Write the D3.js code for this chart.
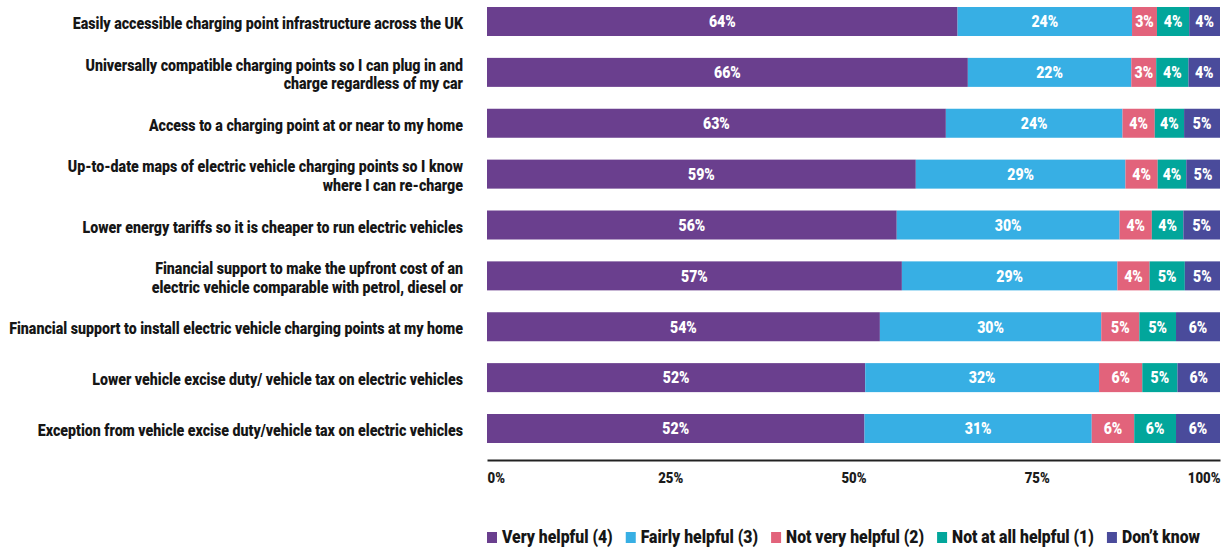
<!DOCTYPE html>
<html>
<head>
<meta charset="utf-8">
<script src="https://cdn.jsdelivr.net/npm/d3@7"></script>
<style>
  html, body { margin: 0; padding: 0; background: #ffffff; }
  svg { display: block; }
  text { font-family: "Roboto", "Noto Sans", sans-serif; font-weight: 900; }
</style>
</head>
<body>
<svg id="chart" width="1229" height="552"></svg>
<script>
// Survey items (each label split into display lines)
const categories = [
  ["Easily accessible charging point infrastructure across the UK"],
  ["Universally compatible charging points so I can plug in and", "charge regardless of my car"],
  ["Access to a charging point at or near to my home"],
  ["Up-to-date maps of electric vehicle charging points so I know", "where I can re-charge"],
  ["Lower energy tariffs so it is cheaper to run electric vehicles"],
  ["Financial support to make the upfront cost of an", "electric vehicle comparable with petrol, diesel or"],
  ["Financial support to install electric vehicle charging points at my home"],
  ["Lower vehicle excise duty/ vehicle tax on electric vehicles"],
  ["Exception from vehicle excise duty/vehicle tax on electric vehicles"]
];

const seriesNames = ["Very helpful (4)", "Fairly helpful (3)", "Not very helpful (2)", "Not at all helpful (1)", "Don\u2019t know"];
const seriesColors = ["#6a3f8e", "#37afe4", "#e2637b", "#02a69b", "#4a4b9b"];

// Share of respondents (%) per answer, one array per answer
const veryHelpful     = [64.2, 65.6, 62.6, 58.5, 55.9, 56.6, 53.6, 51.6, 51.5];
const fairlyHelpful   = [23.8, 22.3, 24.1, 28.6, 30.4, 29.4, 30.2, 31.9, 31.0];
const notVeryHelpful  = [3.4, 3.4, 4.4, 4.4, 4.4, 4.4, 5.2, 5.9, 5.8];
const notAtAllHelpful = [4.4, 4.4, 4.0, 3.9, 4.3, 4.8, 5.0, 4.8, 5.7];
const dontKnow        = [4.2, 4.3, 4.9, 4.6, 5.0, 4.8, 6.0, 5.8, 6.0];

const tickValues = [0, 25, 50, 75, 100];
const tickLabels = ["0%", "25%", "50%", "75%", "100%"];

const seriesValues = [veryHelpful, fairlyHelpful, notVeryHelpful, notAtAllHelpful, dontKnow];

const rows = categories.map((c, i) => {
  const r = { id: i, lines: c };
  seriesNames.forEach((s, k) => { r[s] = seriesValues[k][i]; });
  return r;
});

const svg = d3.select("#chart");
const plotLeft = 487;
const plotRight = 1220;
const plotTop = 7;
const plotBottom = 443;
const labelRight = 463;        // right edge of the category labels
const labelAreaWidth = 454;    // room available for the longest category label

const x = d3.scaleLinear().domain([0, 100]).range([plotLeft, plotRight]);
const y = d3.scaleBand().domain(rows.map(r => r.id)).range([plotTop, plotBottom]).paddingInner(0.43).paddingOuter(0);
const color = d3.scaleOrdinal().domain(seriesNames).range(seriesColors);

const stacked = d3.stack().keys(seriesNames)(rows);

// Stacked bar segments
const layer = svg.append("g").selectAll("g")
  .data(stacked)
  .join("g")
  .attr("fill", d => color(d.key));

layer.selectAll("rect")
  .data(d => d)
  .join("rect")
  .attr("x", d => x(d[0]))
  .attr("y", d => y(d.data.id))
  .attr("width", d => x(d[1]) - x(d[0]))
  .attr("height", y.bandwidth());

// Value labels inside each segment (slightly condensed face)
const numberCondense = 0.88;
layer.selectAll("text")
  .data(d => d)
  .join("text")
  .attr("transform", d => `translate(${(x(d[0]) + x(d[1])) / 2},${y(d.data.id) + y.bandwidth() / 2}) scale(${numberCondense},1)`)
  .attr("dy", "0.36em")
  .attr("text-anchor", "middle")
  .attr("fill", "#ffffff")
  .attr("font-size", 16)
  .text(d => Math.round(d[1] - d[0]) + "%");

// Category labels on the left
const lineGap = 19;
const catLabels = svg.append("g").selectAll("text")
  .data(rows)
  .join("text")
  .attr("text-anchor", "end")
  .attr("fill", "#161616")
  .attr("font-size", 17);

catLabels.each(function(d) {
  const t = d3.select(this);
  const n = d.lines.length;
  d.lines.forEach((ln, j) => {
    t.append("tspan")
      .attr("x", 0)
      .attr("y", (j - (n - 1) / 2) * lineGap + 1.5)
      .attr("dy", "0.36em")
      .text(ln);
  });
});

// Condense the label face so the longest label fits the margin
let widest = 0;
catLabels.selectAll("tspan").each(function() { widest = Math.max(widest, this.getComputedTextLength()); });
const textCondense = Math.min(1, labelAreaWidth / widest);
catLabels.attr("transform", d => `translate(${labelRight},${y(d.id) + y.bandwidth() / 2}) scale(${textCondense},1)`);

// Bottom axis
const axisY = 460;
const axis = d3.axisBottom(x).tickValues(tickValues).tickSize(0).tickPadding(0)
  .tickFormat((d, i) => tickLabels[i]);
const axisG = svg.append("g").attr("transform", `translate(0,${axisY})`).call(axis);
axisG.select(".domain").attr("stroke", "#222").attr("stroke-width", 2);
axisG.selectAll(".tick text")
  .attr("font-family", null)
  .attr("font-size", 15)
  .attr("fill", "#1b1b1b")
  .attr("y", 23)
  .attr("dy", 0)
  .attr("transform", `scale(${numberCondense},1)`)
  .attr("text-anchor", (d, i) => i === 0 ? "start" : (i === tickValues.length - 1 ? "end" : "middle"));

// Legend, spread across the plot width
const legendStartX = 487;
const legendEndX = 1200;
const legendY = 537;
const swatchW = 10, swatchGap = 5, itemGap = 13;
const legend = svg.append("g");
const legendItems = seriesNames.map((name, i) => {
  const t = legend.append("text")
    .attr("dy", "0.36em")
    .attr("font-size", 18)
    .attr("fill", "#161616")
    .text(name);
  return { name, color: seriesColors[i], node: t, w: t.node().getComputedTextLength() };
});
const rawText = d3.sum(legendItems, d => d.w);
const fixed = seriesNames.length * (swatchW + swatchGap) + (seriesNames.length - 1) * itemGap;
const legendCondense = (legendEndX - legendStartX - fixed) / rawText;
let lx = legendStartX;
legendItems.forEach(item => {
  legend.append("rect")
    .attr("x", lx).attr("y", legendY - 5)
    .attr("width", swatchW).attr("height", 11)
    .attr("fill", item.color);
  item.node.attr("transform", `translate(${lx + swatchW + swatchGap},${legendY}) scale(${legendCondense},1)`);
  lx += swatchW + swatchGap + item.w * legendCondense + itemGap;
});
</script>
</body>
</html>
